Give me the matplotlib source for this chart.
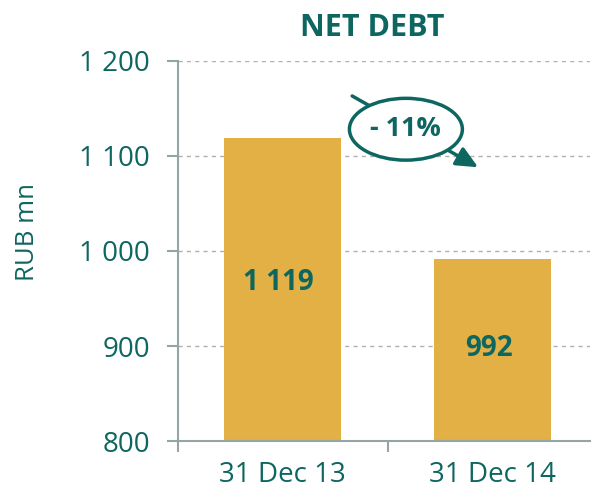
import matplotlib.pyplot as plt
from matplotlib.patches import Ellipse

categories = ["31 Dec 13", "31 Dec 14"]
net_debt = [1119, 992]
bar_labels = ["1 119", "992"]
yticks = [800, 900, 1000, 1100, 1200]
ytick_labels = ["800", "900", "1 000", "1 100", "1 200"]
change_label = "- 11%"

teal = "#0E6660"
gold = "#E2B045"
grey = "#95A5A6"

plt.rcParams['font.family'] = ['Open Sans', 'DejaVu Sans']

fig = plt.figure(figsize=(5.91, 4.94), dpi=100)
ax = fig.add_axes([0.301, 0.107, 0.697, 0.770])

x = list(range(len(categories)))
ax.bar(x, net_debt, width=0.557, color=gold, zorder=2)

ax.set_ylim(800, 1200)
ax.set_xlim(-0.5, 1.462)
ax.set_yticks(yticks)
ax.set_yticklabels(ytick_labels, fontsize=20, color=teal)
ax.set_xticks(x)
ax.set_xticklabels(categories, fontsize=20, color=teal)
ax.tick_params(axis='x', which='major', length=0, pad=14)
ax.set_xticks([-0.5, 0.5], minor=True)
ax.tick_params(axis='x', which='minor', length=8, width=1.5, color=grey)
ax.tick_params(axis='y', length=8, width=1.5, color=grey, pad=12)
ax.yaxis.grid(True, linestyle=(0, (3, 3)), color="#B0B0B0", linewidth=1, zorder=0)

for side in ['top', 'right']:
    ax.spines[side].set_visible(False)
for side in ['left', 'bottom']:
    ax.spines[side].set_color(grey)
    ax.spines[side].set_linewidth(1.5)

# value labels inside the bars
label_y = [967, 897]
for xi, yi, txt in zip(x, label_y, bar_labels):
    ax.text(xi - 0.02, yi, txt, ha='center', va='center', fontsize=20,
            fontweight='bold', color=teal, zorder=3)

# change annotation: arrow + ellipse
ax.annotate("", xy=(0.93, 1088), xytext=(0.33, 1163),
            arrowprops=dict(arrowstyle="-|>,head_length=1.3,head_width=0.6",
                            color=teal, lw=2.5, shrinkA=0, shrinkB=0),
            zorder=4, annotation_clip=False)
ell = Ellipse((0.586, 1128), 0.538, 65, facecolor="white", edgecolor=teal,
              linewidth=2.5, zorder=5, clip_on=False)
ax.add_patch(ell)
ax.text(0.586, 1128, change_label, ha='center', va='center', fontsize=19.5,
        fontweight='bold', color=teal, zorder=6)

ax.set_ylabel("RUB mn", fontsize=18.5, color=teal)
ax.yaxis.set_label_coords(-0.335, 0.55)
fig.text(372 / 591, 1 - 28 / 494, "NET DEBT", ha='center', va='center',
         fontsize=22, fontweight='bold', color=teal)

fig.savefig("out.png", dpi=100)
